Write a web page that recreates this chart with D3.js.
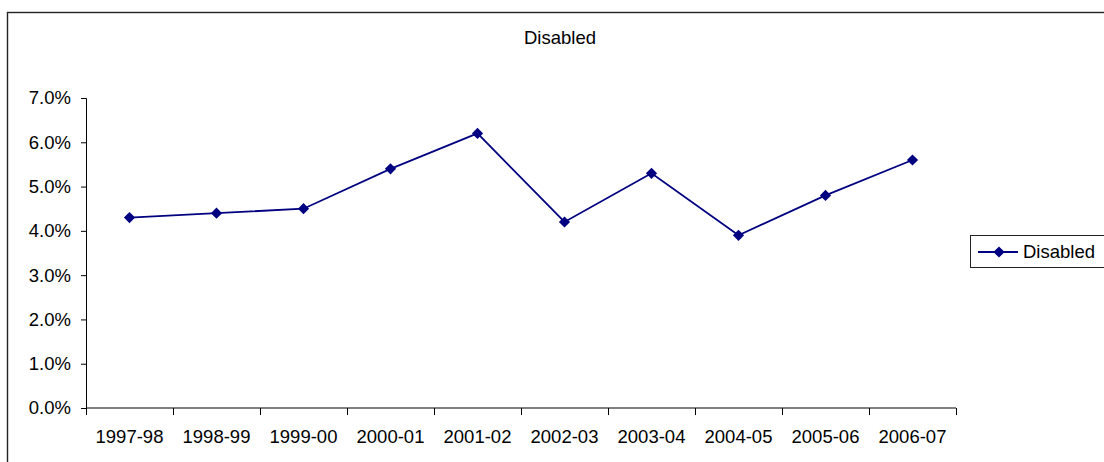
<!DOCTYPE html>
<html>
<head>
<meta charset="utf-8">
<script src="https://cdn.jsdelivr.net/npm/d3@7"></script>
<style>
  html, body { margin: 0; padding: 0; background: #fff; }
  svg { display: block; font-family: "Liberation Sans", Arial, sans-serif; }
</style>
</head>
<body>
<svg id="chart" width="1104" height="462"></svg>
<script>
// Share of disabled, by financial year
const years = ["1997-98", "1998-99", "1999-00", "2000-01", "2001-02",
               "2002-03", "2003-04", "2004-05", "2005-06", "2006-07"];
const disabled = [0.043, 0.044, 0.045, 0.054, 0.062, 0.042, 0.053, 0.039, 0.048, 0.056];
const yTicks = [0, 0.01, 0.02, 0.03, 0.04, 0.05, 0.06, 0.07];
const seriesName = "Disabled";
const chartTitle = "Disabled";

const navy = "#000080";
const fontSize = 18.5;
const svg = d3.select("#chart");

// Outer frame (runs off the right and bottom edges)
svg.append("rect")
  .attr("x", 7.5).attr("y", 12.5)
  .attr("width", 1200).attr("height", 460)
  .attr("fill", "none").attr("stroke", "#222").attr("stroke-width", 1.4);

const plot = { left: 86, right: 956, top: 98, bottom: 408 };

const x = d3.scaleBand().domain(years).range([plot.left, plot.right]).padding(0);
const y = d3.scaleLinear().domain([0, 0.07]).range([plot.bottom, plot.top]);

svg.append("text")
  .attr("x", 560).attr("y", 44)
  .attr("text-anchor", "middle")
  .attr("font-size", fontSize).attr("fill", "#000")
  .text(chartTitle);

// Y axis
const yAxis = svg.append("g")
  .attr("transform", `translate(${plot.left},0)`)
  .call(d3.axisLeft(y).tickValues(yTicks).tickFormat(d3.format(".1%"))
    .tickSizeOuter(0).tickSize(5).tickPadding(10));
yAxis.select(".domain").attr("stroke", "#000");
yAxis.selectAll(".tick line").attr("stroke", "#000");
yAxis.selectAll(".tick text").attr("font-size", fontSize).attr("fill", "#000")
  .attr("font-family", "Liberation Sans, Arial, sans-serif");

// X axis with ticks on category boundaries
const xAxis = svg.append("g")
  .attr("transform", `translate(0,${plot.bottom})`);
xAxis.append("line")
  .attr("x1", plot.left).attr("x2", plot.right)
  .attr("stroke", "#000");
const bounds = years.map(d => x(d)).concat([x(years[years.length - 1]) + x.bandwidth()]);
xAxis.selectAll("line.tick").data(bounds).join("line")
  .attr("class", "tick")
  .attr("x1", d => d + 0.5).attr("x2", d => d + 0.5)
  .attr("y1", 0).attr("y2", 7)
  .attr("stroke", "#000");
xAxis.selectAll("text").data(years).join("text")
  .attr("x", d => x(d) + x.bandwidth() / 2)
  .attr("y", 35)
  .attr("text-anchor", "middle")
  .attr("font-size", fontSize).attr("fill", "#000")
  .text(d => d);

// Series line and diamond markers
const pts = years.map((d, i) => [x(d) + x.bandwidth() / 2, y(disabled[i])]);
svg.append("path")
  .attr("d", d3.line()(pts))
  .attr("fill", "none").attr("stroke", navy).attr("stroke-width", 1.8);

const diamond = "M0,-5.6L5.6,0L0,5.6L-5.6,0Z";
svg.selectAll("path.marker").data(pts).join("path")
  .attr("class", "marker")
  .attr("transform", d => `translate(${d[0]},${d[1]})`)
  .attr("d", diamond)
  .attr("fill", navy);

// Legend
const lg = svg.append("g");
lg.append("rect")
  .attr("x", 970.5).attr("y", 235.5)
  .attr("width", 200).attr("height", 32)
  .attr("fill", "#fff").attr("stroke", "#222").attr("stroke-width", 1);
lg.append("line")
  .attr("x1", 978).attr("x2", 1018).attr("y1", 252).attr("y2", 252)
  .attr("stroke", navy).attr("stroke-width", 1.8);
lg.append("path")
  .attr("transform", "translate(999,252)")
  .attr("d", diamond).attr("fill", navy);
lg.append("text")
  .attr("x", 1023).attr("y", 258)
  .attr("font-size", fontSize).attr("fill", "#000")
  .text(seriesName);
</script>
</body>
</html>
